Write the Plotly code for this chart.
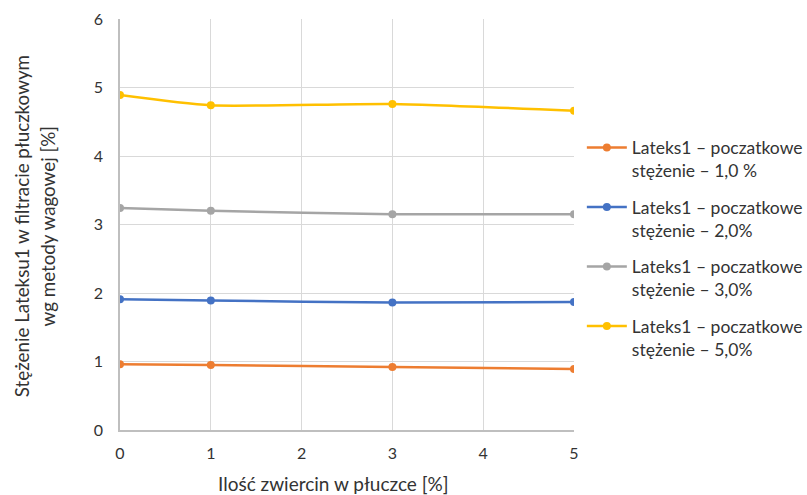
import plotly.graph_objects as go

x_vals = [0, 1, 3, 5]
s1 = [0.96, 0.95, 0.92, 0.89]
s2 = [1.91, 1.89, 1.86, 1.87]
s3 = [3.24, 3.20, 3.15, 3.15]
s5 = [4.89, 4.74, 4.76, 4.66]
names = [
    "Lateks1 – poczatkowe<br>stężenie – 1,0 %",
    "Lateks1 – poczatkowe<br>stężenie – 2,0%",
    "Lateks1 – poczatkowe<br>stężenie – 3,0%",
    "Lateks1 – poczatkowe<br>stężenie – 5,0%",
]
x_title = "Ilość zwiercin w płuczce [%]"
y_title_lines = ["Stężenie Lateksu1 w filtracie płuczkowym", "wg metody wagowej [%]"]
colors = ["#ED7D31", "#4472C4", "#A5A5A5", "#FFC000"]
series = [s1, s2, s3, s5]

font_family = "Lato, Open Sans, sans-serif"
txt = "#333333"

fig = go.Figure()
for i, (ys, nm, c) in enumerate(zip(series, names, colors)):
    fig.add_trace(go.Scatter(
        x=x_vals, y=ys, name=nm, mode="lines+markers", legendgroup=f"g{i}",
        line=dict(color=c, width=2.5, shape="spline", smoothing=0.6),
        marker=dict(color=c, size=8),
    ))

fig.update_layout(
    width=807, height=495,
    margin=dict(l=120, r=233, t=19, b=65, autoexpand=False),
    paper_bgcolor="white", plot_bgcolor="white",
    font=dict(family=font_family, color=txt, size=16),
    showlegend=True,
    legend=dict(
        xref="container", yref="container",
        x=0.721, y=0.738, xanchor="left", yanchor="top",
        font=dict(size=17.5, color=txt),
        traceorder="grouped", tracegroupgap=11, valign="top",
        bgcolor="rgba(0,0,0,0)", itemwidth=40,
    ),
)
fig.update_xaxes(
    range=[0, 5], tickvals=[0, 1, 2, 3, 4, 5], showgrid=True,
    gridcolor="#D9D9D9", gridwidth=1, zeroline=False,
    showline=True, linecolor="#BFBFBF", linewidth=1.5,
    ticks="", ticklabelstandoff=8, tickfont=dict(size=16, color=txt),
    automargin=False,
)
fig.update_yaxes(
    range=[0, 6], tickvals=[0, 1, 2, 3, 4, 5, 6], showgrid=True,
    gridcolor="#D9D9D9", gridwidth=1, zeroline=False,
    showline=True, linecolor="#BFBFBF", linewidth=1.5,
    ticks="", ticklabelstandoff=12, tickfont=dict(size=16, color=txt),
    automargin=False,
)
fig.add_annotation(
    text=x_title, xref="paper", yref="paper", x=0.471, y=-0.13,
    xanchor="center", yanchor="middle", showarrow=False,
    font=dict(size=19, color=txt),
)
for xpos, line in zip([-0.218, -0.160], y_title_lines):
    fig.add_annotation(
        text=line, xref="paper", yref="paper", x=xpos, y=0.496,
        xanchor="center", yanchor="middle", showarrow=False, textangle=-90,
        font=dict(size=18.8, color=txt),
    )

fig.write_html("out.html")
